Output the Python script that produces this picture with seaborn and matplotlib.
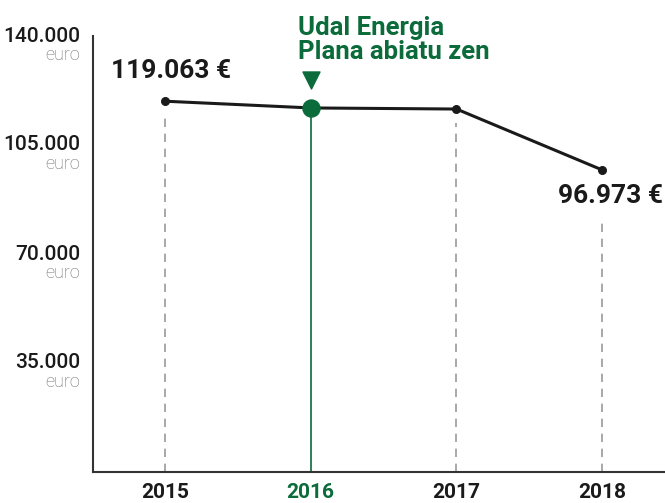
import matplotlib
matplotlib.use("Agg")
import matplotlib.pyplot as plt
import matplotlib.transforms as mtransforms
import seaborn as sns
import pandas as pd
from matplotlib import font_manager

years = [2015, 2016, 2017, 2018]
values = [119063, 116900, 116550, 96973]
yticks = [35000, 70000, 105000, 140000]
ytick_labels = ["35.000", "70.000", "105.000", "140.000"]
value_labels = {2015: "119.063 €", 2018: "96.973 €"}
annotation = "Udal Energia\nPlana abiatu zen"

sns.set_theme(style="white")
names = {f.name for f in font_manager.fontManager.ttflist}
fam = "Liberation Sans Narrow" if "Liberation Sans Narrow" in names else "Roboto"
plt.rcParams["font.family"] = [fam, "DejaVu Sans"]

GREEN = "#0b6b3a"
DARK = "#1a1a1a"

df = pd.DataFrame({"year": years, "value": values})

fig = plt.figure(figsize=(6.65, 5.03), dpi=100)
ax = fig.add_axes([93/665, 31/503, 1 - 93/665, 436/503])

for y, v in zip(years, values):
    if y == 2016:
        ax.plot([y, y], [0, v], color=GREEN, lw=1.2, zorder=1)
    else:
        top = v - 4500 if y != 2018 else v - 15500
        ax.plot([y, y], [0, top], color="#999999", lw=1.2, ls=(0, (5, 4)), zorder=1)

sns.lineplot(data=df, x="year", y="value", ax=ax, color=DARK, lw=2.2, zorder=3)
ax.scatter([y for y in years if y != 2016], [v for y, v in zip(years, values) if y != 2016],
           s=30, color=DARK, zorder=4)
ax.scatter([2016], [values[1]], s=150, color=GREEN, zorder=5)
ax.scatter([2016], [values[1] + 9000], s=150, marker="v", color=GREEN, zorder=5)

ax.text(2016 - 0.085, values[1] + 14000, annotation, color=GREEN, fontsize=18.5,
        fontweight="bold", ha="left", va="bottom", linespacing=1.0)
ax.text(2015 + 0.04, 119063 + 6000, value_labels[2015], color=DARK, fontsize=19,
        fontweight="bold", ha="center", va="bottom")
ax.text(2018 + 0.055, 96973 - 4500, value_labels[2018], color=DARK, fontsize=19,
        fontweight="bold", ha="center", va="top")

ax.set_xlim(2014.507, 2018.43)
ax.set_ylim(0, 140000)
ax.set_xticks(years)
ax.set_xticklabels([str(y) for y in years], fontsize=15, fontweight="bold")
for lbl in ax.get_xticklabels():
    lbl.set_color(GREEN if lbl.get_text() == "2016" else DARK)
ax.tick_params(axis="x", length=0, pad=8)

ax.set_yticks(yticks)
ax.set_yticklabels([])
ax.tick_params(axis="y", direction="in", length=14, width=1.5, color=DARK)
off = mtransforms.offset_copy(ax.get_yaxis_transform(), fig=fig, x=-13, y=0, units="dots")
for t, lab in zip(yticks, ytick_labels):
    ax.text(0, t, lab, transform=off, ha="right", va="center",
            fontsize=15, fontweight="medium", color=DARK)
    ax.text(0, t - 6000, "euro", transform=off, ha="right",
            va="center", fontsize=13, fontweight="light", color="#707070")

for s in ["top", "right"]:
    ax.spines[s].set_visible(False)
for s in ["left", "bottom"]:
    ax.spines[s].set_color("#333333")
    ax.spines[s].set_linewidth(1.5)
ax.set_xlabel("")
ax.set_ylabel("")

fig.savefig("out.png", dpi=100)
